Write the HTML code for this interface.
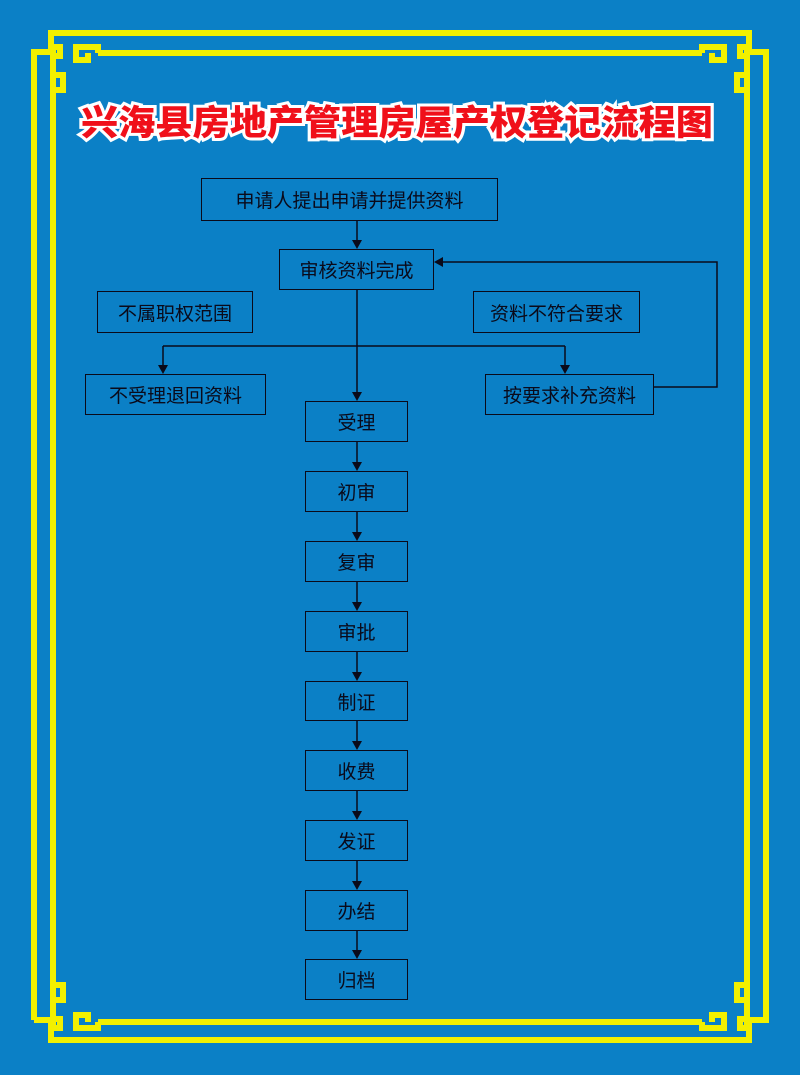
<!DOCTYPE html>
<html><head><meta charset="utf-8"><style>
html,body{margin:0;padding:0}
body{width:800px;height:1075px;background:#0b80c6;position:relative;overflow:hidden;font-family:"Liberation Sans","Noto Sans CJK SC",sans-serif}
.b{position:absolute;border:1.5px solid #0a0a1a;box-sizing:border-box;display:flex;align-items:center;justify-content:center;font-size:19px;color:#0a0a1a}
svg{position:absolute;left:0;top:0}
</style></head><body>
<svg width="800" height="1075" viewBox="0 0 800 1075">
<g fill="none" stroke="#f2f000" stroke-width="6" stroke-linejoin="miter">
<polyline points="34,1020 34,52 51,52 51,33 749,33 749,52 766,52 766,1020 749,1020 749,1040 51,1040 51,1020 34,1020"/>
<g id="c">
<polyline points="98,53 98,47 76,47 76,60 88,60 88,53"/>
<polyline points="53,75 53,47 60,47 60,56 52,56"/>
<polyline points="53,97 53,75 63,75 63,90 56,90"/>
</g>
<use href="#c" transform="translate(800,0) scale(-1,1)"/>
<use href="#c" transform="translate(0,1075) scale(1,-1)"/>
<use href="#c" transform="translate(800,1075) scale(-1,-1)"/>
<line x1="98" y1="53" x2="702" y2="53"/>
<line x1="98" y1="1022" x2="702" y2="1022"/>
<line x1="53" y1="97" x2="53" y2="978"/>
<line x1="747" y1="97" x2="747" y2="978"/>
</g>
<text x="397" y="135" text-anchor="middle" font-family="Liberation Sans,Noto Sans CJK SC,sans-serif" font-size="35" font-weight="900" fill="#f0101a" stroke="#fff" stroke-width="6" paint-order="stroke" textLength="632" lengthAdjust="spacingAndGlyphs">兴海县房地产管理房屋产权登记流程图</text>
<g stroke="#0a0a1a" stroke-width="1.5" fill="none">
<line x1="357" y1="221" x2="357" y2="243"/>
<line x1="357" y1="290" x2="357" y2="395"/>
<line x1="163" y1="346" x2="565" y2="346"/>
<line x1="163" y1="346" x2="163" y2="368"/>
<line x1="565" y1="346" x2="565" y2="368"/>
<polyline points="654,387 717,387 717,262 440,262"/>
<line x1="357" y1="442" x2="357" y2="465"/><line x1="357" y1="512" x2="357" y2="535"/>
<line x1="357" y1="582" x2="357" y2="605"/><line x1="357" y1="652" x2="357" y2="675"/>
<line x1="357" y1="721" x2="357" y2="744"/><line x1="357" y1="791" x2="357" y2="814"/>
<line x1="357" y1="861" x2="357" y2="884"/><line x1="357" y1="931" x2="357" y2="953"/>
</g>
<g fill="#0a0a1a">
<path d="M352,240 L362,240 L357,249Z"/><path d="M352,392 L362,392 L357,401Z"/>
<path d="M158,365 L168,365 L163,374Z"/><path d="M560,365 L570,365 L565,374Z"/>
<path d="M443,257 L443,267 L434,262Z"/>
<path d="M352,462 L362,462 L357,471Z"/><path d="M352,532 L362,532 L357,541Z"/>
<path d="M352,602 L362,602 L357,611Z"/><path d="M352,672 L362,672 L357,681Z"/>
<path d="M352,741 L362,741 L357,750Z"/><path d="M352,811 L362,811 L357,820Z"/>
<path d="M352,881 L362,881 L357,890Z"/><path d="M352,950 L362,950 L357,959Z"/>
</g>
</svg>
<div class="b" style="left:201px;top:178px;width:297px;height:43px">申请人提出申请并提供资料</div>
<div class="b" style="left:279px;top:249px;width:155px;height:41px">审核资料完成</div>
<div class="b" style="left:97px;top:291px;width:156px;height:42px">不属职权范围</div>
<div class="b" style="left:473px;top:291px;width:167px;height:42px">资料不符合要求</div>
<div class="b" style="left:85px;top:374px;width:181px;height:41px">不受理退回资料</div>
<div class="b" style="left:485px;top:374px;width:169px;height:41px">按要求补充资料</div>
<div class="b" style="left:305px;top:401px;width:103px;height:41px">受理</div>
<div class="b" style="left:305px;top:471px;width:103px;height:41px">初审</div>
<div class="b" style="left:305px;top:541px;width:103px;height:41px">复审</div>
<div class="b" style="left:305px;top:611px;width:103px;height:41px">审批</div>
<div class="b" style="left:305px;top:681px;width:103px;height:40px">制证</div>
<div class="b" style="left:305px;top:750px;width:103px;height:41px">收费</div>
<div class="b" style="left:305px;top:820px;width:103px;height:41px">发证</div>
<div class="b" style="left:305px;top:890px;width:103px;height:41px">办结</div>
<div class="b" style="left:305px;top:959px;width:103px;height:41px">归档</div>
</body></html>
